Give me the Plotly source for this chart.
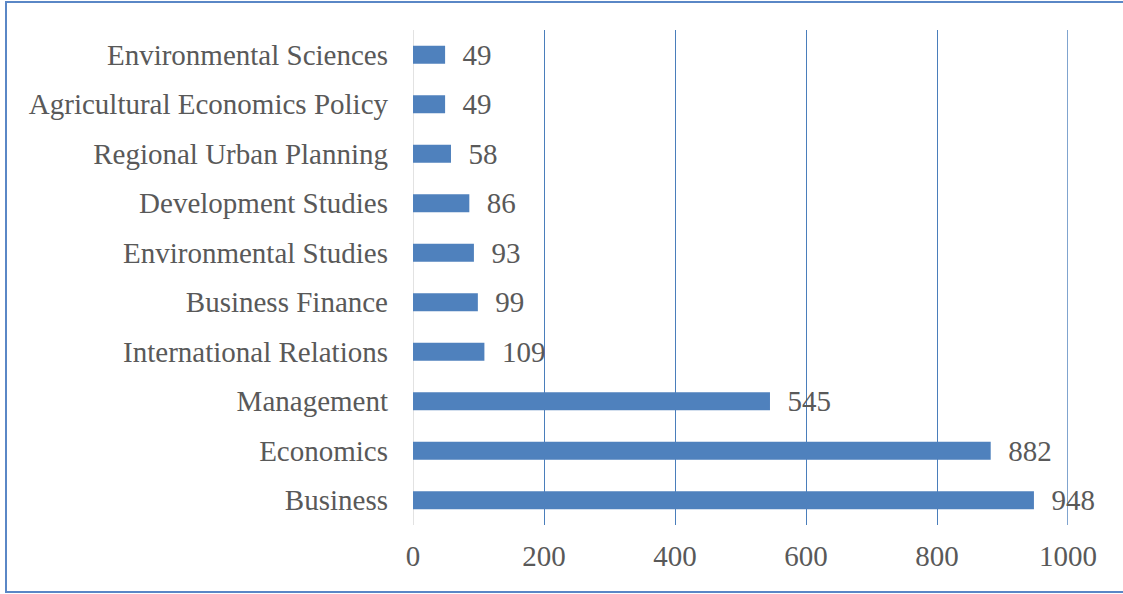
import plotly.graph_objects as go

categories = ["Business", "Economics", "Management", "International Relations",
              "Business Finance", "Environmental Studies", "Development Studies",
              "Regional Urban Planning", "Agricultural Economics Policy",
              "Environmental Sciences"]
values = [948, 882, 545, 109, 99, 93, 86, 58, 49, 49]
x_ticks = [0, 200, 400, 600, 800, 1000]

FONT = "Liberation Serif, Times New Roman, serif"
FS = 29
GRAY = "#595959"
BLUE = "#4f81bd"
GRID = "#4a7ebb"

fig = go.Figure(go.Bar(
    x=values, y=categories, orientation="h",
    marker=dict(color=BLUE, line=dict(width=0)),
    text=values, texttemplate="\u00a0\u00a0%{x}", textposition="outside",
    textfont=dict(family=FONT, size=FS, color=GRAY),
    cliponaxis=False, constraintext="none",
))

L, R, T, B = 413, 55, 30, 69
W, H = 1123, 594
pw, ph = W - L - R, H - T - B

def px(x):
    return (x - L) / pw

def py(y):
    return (H - B - y) / ph

fig.update_layout(
    width=W, height=H,
    margin=dict(l=L, r=R, t=T, b=B, autoexpand=False),
    paper_bgcolor="white", plot_bgcolor="white",
    bargap=0.64, showlegend=False,
    font=dict(family=FONT, size=FS, color=GRAY),
    xaxis=dict(range=[0, 1000], tickvals=x_ticks, showgrid=True,
               gridcolor=GRID, gridwidth=1.4, zeroline=False,
               showline=False, ticks="", ticklabelstandoff=11,
               tickfont=dict(family=FONT, size=FS, color=GRAY)),
    yaxis=dict(showgrid=False, zeroline=False, showline=False, ticks="",
               ticklabelstandoff=24,
               tickfont=dict(family=FONT, size=FS, color=GRAY)),
    shapes=[
        dict(type="line", xref="x", yref="paper", x0=0, x1=0, y0=0, y1=1,
             line=dict(color="#d9d9d9", width=1.5), layer="below"),
        dict(type="line", xref="x", yref="paper", x0=x_ticks[-1], x1=x_ticks[-1],
             y0=0, y1=1, line=dict(color=GRID, width=1.4), layer="below"),
        dict(type="rect", xref="paper", yref="paper",
             x0=px(6), x1=px(1130), y0=py(592), y1=py(2),
             line=dict(color="#5a87c6", width=2), fillcolor="rgba(0,0,0,0)"),
    ],
)

fig.write_html("out.html", config={"displayModeBar": False},
               post_script="document.body.style.margin='0';")
